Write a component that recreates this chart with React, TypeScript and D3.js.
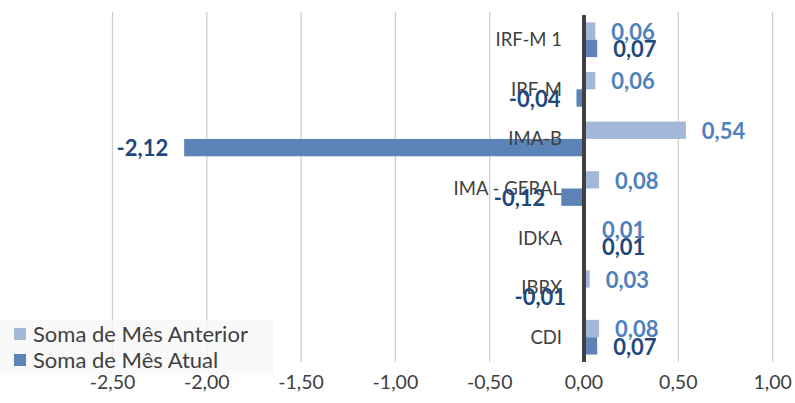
import React from "react";
import * as d3 from "d3";

const categories = ["IRF-M 1", "IRF-M", "IMA-B", "IMA - GERAL", "IDKA", "IBRX", "CDI"];
const mesAnterior = [0.06, 0.06, 0.54, 0.08, 0.01, 0.03, 0.08];
const mesAtual = [0.07, -0.04, -2.12, -0.12, 0.01, -0.01, 0.07];
const ticks = [-2.5, -2, -1.5, -1, -0.5, 0, 0.5, 1];
const seriesNames = ["Soma de Mês Anterior", "Soma de Mês Atual"];

const width = 795;
const height = 403;
const font = "Lato, 'Open Sans', sans-serif";

// Excel style: comma decimal, plain hyphen for minus
const fmt = (v: number) => d3.format(".2f")(v).replace(".", ",").replace("\u2212", "-");

export default function App() {
  const x = d3.scaleLinear().domain([-2.5, 1]).range([112.5, 772.6]);
  const y = d3.scaleBand().domain(categories).range([15, 362]).paddingInner(0.3).paddingOuter(0.15);
  const sub = d3.scaleBand().domain(["ant", "atu"]).range([0, y.bandwidth()]);

  const series = [
    { key: "ant", values: mesAnterior, fill: "#a3b7d9", label: "#4f81bd" },
    { key: "atu", values: mesAtual, fill: "#5d84b6", label: "#1f497d" },
  ];

  const top = 15;
  const bottom = 362;

  return (
    <svg width={width} height={height} style={{ position: "absolute", left: 0, top: 0, background: "#fff" }} fontFamily={font}>
      {/* grid */}
      {ticks.map((t) =>
        t === 0 ? null : (
          <line key={t} x1={x(t)} x2={x(t)} y1={top - 3} y2={bottom} stroke="#cfcfcf" strokeWidth={1.3} />
        )
      )}

      {/* bars */}
      {series.map((s) =>
        s.values.map((v, i) => {
          const yy = (y(categories[i]) as number) + (sub(s.key) as number);
          return (
            <rect
              key={s.key + i}
              x={Math.min(x(0), x(v))}
              y={yy}
              width={Math.abs(x(v) - x(0))}
              height={sub.bandwidth()}
              fill={s.fill}
            />
          );
        })
      )}

      {/* zero axis */}
      <line x1={x(0)} x2={x(0)} y1={top} y2={bottom} stroke="#404040" strokeWidth={4} />

      {/* category labels */}
      {categories.map((c) => (
        <text
          key={c}
          x={x(0) - 22}
          y={(y(c) as number) + y.bandwidth() / 2}
          dy="0.35em"
          textAnchor="end"
          fontSize={18.5}
          fill="#404040"
        >
          {c}
        </text>
      ))}

      {/* data labels */}
      {series.map((s) =>
        s.values.map((v, i) => {
          const yy = (y(categories[i]) as number) + (sub(s.key) as number) + sub.bandwidth() / 2 + 1;
          const pos = v >= 0;
          return (
            <text
              key={"l" + s.key + i}
              x={pos ? x(v) + 16 : x(v) - 16}
              y={yy}
              dy="0.35em"
              textAnchor={pos ? "start" : "end"}
              fontSize={22}
              fontWeight="bold"
              fill={s.label}
            >
              {fmt(v)}
            </text>
          );
        })
      )}

      {/* legend */}
      <rect x={0} y={320} width={273} height={55} fill="#f7f7f7" opacity={0.75} />
      {series.map((s, i) => (
        <g key={"lg" + s.key} transform={`translate(14, ${334 + i * 26})`}>
          <rect x={0} y={-6} width={12} height={12} fill={s.fill} />
          <text x={19} y={0} dy="0.35em" fontSize={22} fill="#404040">
            {seriesNames[i]}
          </text>
        </g>
      ))}

      {/* x tick labels */}
      {ticks.map((t) => (
        <text key={"t" + t} x={x(t)} y={389} textAnchor="middle" fontSize={19.5} fill="#404040">
          {fmt(t)}
        </text>
      ))}
    </svg>
  );
}
